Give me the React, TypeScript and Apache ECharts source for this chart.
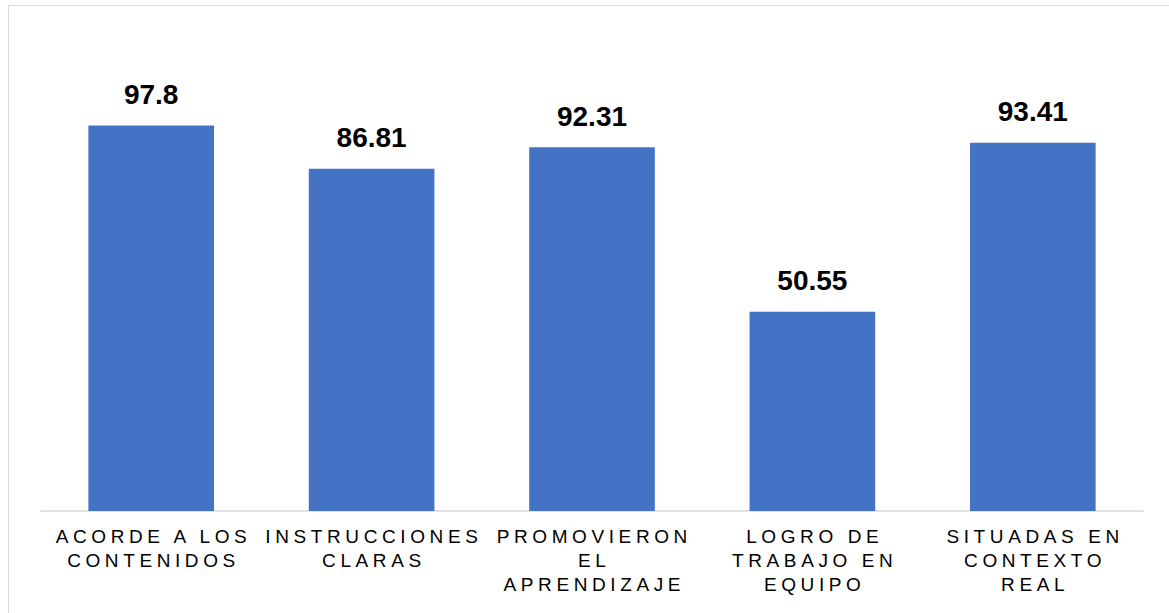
import React, { useEffect, useRef } from "react";
import * as echarts from "echarts";

const categories = [
  "ACORDE A LOS\nCONTENIDOS",
  "INSTRUCCIONES\nCLARAS",
  "PROMOVIERON\nEL\nAPRENDIZAJE",
  "LOGRO DE\nTRABAJO EN\nEQUIPO",
  "SITUADAS EN\nCONTEXTO\nREAL",
];
const values = [97.8, 86.81, 92.31, 50.55, 93.41];

const FONT = "'Liberation Sans', Arial, Helvetica, sans-serif";
const SPACING = 4.6;

export default function App() {
  const ref = useRef<HTMLDivElement>(null);
  useEffect(() => {
    document.body.style.margin = "0";
    const el = ref.current!;
    const chart = echarts.init(el, undefined, { renderer: "svg" });
    const lines = new Set<string>();
    categories.forEach((c) => c.split("\n").forEach((l) => lines.add(l)));
    const applySpacing = () => {
      el.querySelectorAll("text").forEach((t) => {
        const s = (t.textContent || "").trim();
        if (lines.has(s)) {
          (t as SVGTextElement).style.letterSpacing = SPACING + "px";
          t.setAttribute("dx", String(SPACING / 2));
        }
      });
    };
    chart.setOption({
      animation: false,
      backgroundColor: "#ffffff",
      grid: { left: 41, right: 26, top: 38, bottom: 102 },
      graphic: [
        {
          type: "rect",
          left: 6,
          top: 3,
          shape: { x: 0, y: 0, width: 1300, height: 800 },
          style: { fill: "none", stroke: "#d9d9d9", lineWidth: 1 },
          silent: true,
          z: -1,
        },
      ],
      xAxis: {
        type: "category",
        data: categories,
        axisLine: { show: true, lineStyle: { color: "#d9d9d9", width: 1.5 } },
        axisTick: { show: false },
        axisLabel: {
          interval: 0,
          margin: 13,
          fontSize: 19,
          lineHeight: 24,
          color: "#000000",
          fontFamily: FONT,
        },
      },
      yAxis: {
        type: "value",
        min: 0,
        max: 120,
        show: false,
        splitLine: { show: false },
      },
      series: [
        {
          type: "bar",
          data: values,
          barWidth: "57%",
          itemStyle: { color: "#4472C4" },
          label: {
            show: true,
            position: "top",
            distance: 17,
            fontSize: 28,
            fontWeight: "bold",
            color: "#000000",
            fontFamily: FONT,
          },
        },
      ],
    });
    applySpacing();
    chart.on("finished", applySpacing);
    const id = window.setTimeout(applySpacing, 50);
    return () => {
      window.clearTimeout(id);
      chart.dispose();
    };
  }, []);
  return <div ref={ref} style={{ width: 1169, height: 613 }} />;
}
